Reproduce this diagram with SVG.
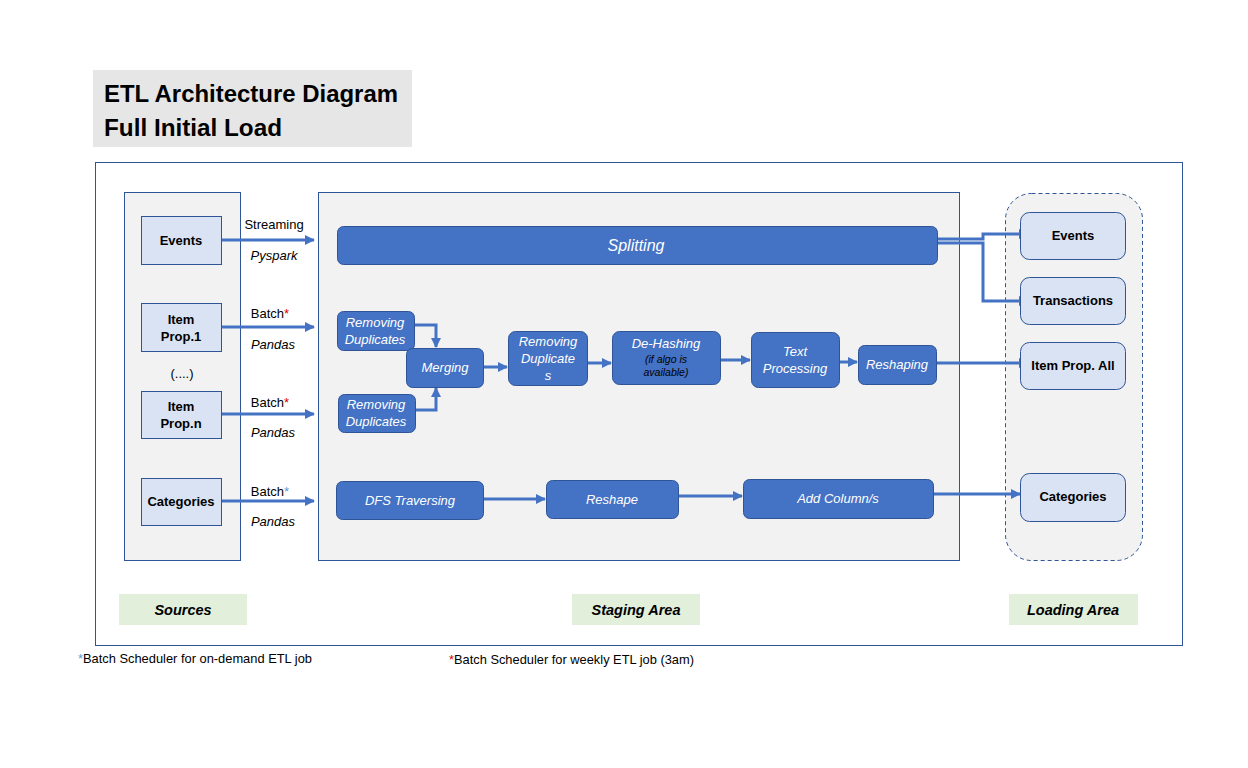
<svg xmlns="http://www.w3.org/2000/svg" width="1248" height="768" viewBox="0 0 1248 768">
<defs>
<marker id="ah" markerWidth="10" markerHeight="10" refX="9" refY="5" orient="auto" markerUnits="userSpaceOnUse"><path d="M0,0 L10,5 L0,10 Z" fill="#4472c4"/></marker>
<style>
.panel{fill:#f2f2f2;stroke:#2f5597;stroke-width:1}
.src{fill:#dae3f3;stroke:#2f5597;stroke-width:1}
.ld{fill:#dae3f3;stroke:#2f5597;stroke-width:1}
.st{fill:#4472c4;stroke:#2f5597;stroke-width:1}
.lbl{fill:#e2efda}
.t{font-family:"Liberation Sans",Arial,sans-serif;font-size:13px;fill:#000;text-anchor:middle}
.b{font-weight:bold}
.w{fill:#fff;font-style:italic}
.i{font-style:italic}
.sm{font-size:10.5px}
.big{font-size:16px}
.sec{font-size:14.5px}
.c{fill:none;stroke:#4472c4;stroke-width:3}
</style>
</defs>
<rect width="1248" height="768" fill="#fff"/>
<g id="title">
<rect x="93" y="70" width="319" height="77" fill="#e6e6e6"/>
<text x="104" y="102" font-family="'Liberation Sans',Arial,sans-serif" font-size="24" font-weight="bold" textLength="294" lengthAdjust="spacingAndGlyphs">ETL Architecture Diagram</text>
<text x="104" y="136" font-family="'Liberation Sans',Arial,sans-serif" font-size="24" font-weight="bold" textLength="178" lengthAdjust="spacingAndGlyphs">Full Initial Load</text>
</g>
<rect x="95.5" y="162.5" width="1087" height="483" fill="#fff" stroke="#2f5597" stroke-width="1"/>
<g id="sources-panel"><rect class="panel" x="124.5" y="192.5" width="116" height="368"/></g>
<g id="staging-panel"><rect class="panel" x="318.5" y="192.5" width="641" height="368"/></g>
<g id="loading-panel"><rect x="1005.5" y="193.5" width="137" height="367" rx="26" fill="#f2f2f2" stroke="#2f5597" stroke-dasharray="4,3"/></g>

<g id="connectors">
<line class="c" x1="221" y1="240" x2="314" y2="240" marker-end="url(#ah)"/>
<line class="c" x1="221" y1="327" x2="314" y2="327" marker-end="url(#ah)"/>
<line class="c" x1="221" y1="414" x2="314" y2="414" marker-end="url(#ah)"/>
<line class="c" x1="221" y1="501" x2="314" y2="501" marker-end="url(#ah)"/>
<polyline class="c" points="938,239 983,239 983,234 1028,234" marker-end="url(#ah)"/>
<polyline class="c" points="938,243 983,243 983,301 1028,301" marker-end="url(#ah)"/>
<line class="c" x1="936" y1="363" x2="1028" y2="363" marker-end="url(#ah)"/>
<line class="c" x1="933" y1="494" x2="1020" y2="494" marker-end="url(#ah)"/>
<polyline class="c" points="414,325 436,325 436,347" marker-end="url(#ah)"/>
<polyline class="c" points="415,410 436,410 436,388" marker-end="url(#ah)"/>
<line class="c" x1="483" y1="367" x2="507" y2="367" marker-end="url(#ah)"/>
<line class="c" x1="587" y1="363" x2="611" y2="363" marker-end="url(#ah)"/>
<line class="c" x1="720" y1="360" x2="750" y2="360" marker-end="url(#ah)"/>
<line class="c" x1="839" y1="362" x2="857" y2="362" marker-end="url(#ah)"/>
<line class="c" x1="483" y1="499" x2="545" y2="499" marker-end="url(#ah)"/>
<line class="c" x1="678" y1="496" x2="742" y2="496" marker-end="url(#ah)"/>
</g>

<g id="edge-labels">
<text class="t" x="274" y="229">Streaming</text>
<text class="t i" x="274" y="260">Pyspark</text>
<text class="t" x="270" y="318">Batch<tspan fill="#e00000">*</tspan></text>
<text class="t i" x="273" y="349">Pandas</text>
<text class="t" x="270" y="407">Batch<tspan fill="#e00000">*</tspan></text>
<text class="t i" x="273" y="437">Pandas</text>
<text class="t" x="270" y="496">Batch<tspan fill="#5b9bd5">*</tspan></text>
<text class="t i" x="273" y="526">Pandas</text>
</g>

<g id="src-events"><rect class="src" x="141.5" y="216.5" width="80" height="48"/><text class="t b" x="181" y="245">Events</text></g>
<g id="src-item1"><rect class="src" x="141.5" y="303.5" width="80" height="48"/><text class="t b" x="181" y="324">Item</text><text class="t b" x="181" y="341">Prop.1</text></g>
<g id="src-dots"><text class="t" x="182" y="378">(....)</text></g>
<g id="src-itemn"><rect class="src" x="141.5" y="391.5" width="80" height="47"/><text class="t b" x="181" y="411">Item</text><text class="t b" x="181" y="428">Prop.n</text></g>
<g id="src-categories"><rect class="src" x="141.5" y="478.5" width="80" height="47"/><text class="t b" x="181" y="506">Categories</text></g>

<g id="splitting"><rect class="st" x="337.5" y="226.5" width="600" height="38" rx="6"/><text class="t w big" x="636" y="251">Splitting</text></g>
<g id="rd1"><rect class="st" x="337.5" y="311.5" width="77" height="39" rx="6"/><text class="t w" x="375" y="327">Removing</text><text class="t w" x="375" y="344">Duplicates</text></g>
<g id="merging"><rect class="st" x="406.5" y="348.5" width="77" height="39" rx="6"/><text class="t w" x="445" y="372">Merging</text></g>
<g id="rd2"><rect class="st" x="338.5" y="394.5" width="77" height="38" rx="6"/><text class="t w" x="376" y="409">Removing</text><text class="t w" x="376" y="426">Duplicates</text></g>
<g id="rd3"><rect class="st" x="508.5" y="331.5" width="79" height="54" rx="7"/><text class="t w" x="548" y="346">Removing</text><text class="t w" x="548" y="363">Duplicate</text><text class="t w" x="548" y="380">s</text></g>
<g id="dehash"><rect class="st" x="612.5" y="331.5" width="108" height="53" rx="7"/><text class="t w" x="666" y="348">De-Hashing</text><text class="t i sm" x="666" y="363">(if algo is</text><text class="t i sm" x="666" y="376">available)</text></g>
<g id="textproc"><rect class="st" x="751.5" y="332.5" width="88" height="55" rx="7"/><text class="t w" x="795" y="356">Text</text><text class="t w" x="795" y="373">Processing</text></g>
<g id="reshaping"><rect class="st" x="858.5" y="345.5" width="78" height="39" rx="6"/><text class="t w" x="897" y="369">Reshaping</text></g>
<g id="dfs"><rect class="st" x="336.5" y="481.5" width="147" height="38" rx="6"/><text class="t w" x="410" y="505">DFS Traversing</text></g>
<g id="reshape"><rect class="st" x="546.5" y="480.5" width="132" height="38" rx="6"/><text class="t w" x="612" y="504">Reshape</text></g>
<g id="addcol"><rect class="st" x="743.5" y="479.5" width="190" height="39" rx="6"/><text class="t w" x="838" y="503">Add Column/s</text></g>

<g id="ld-events"><rect class="ld" x="1020.5" y="212.5" width="105" height="47" rx="9"/><text class="t b" x="1073" y="240">Events</text></g>
<g id="ld-trans"><rect class="ld" x="1020.5" y="277.5" width="105" height="47" rx="9"/><text class="t b" x="1073" y="305">Transactions</text></g>
<g id="ld-itemall"><rect class="ld" x="1020.5" y="342.5" width="105" height="47" rx="9"/><text class="t b" x="1073" y="370">Item Prop. All</text></g>
<g id="ld-categories"><rect class="ld" x="1020.5" y="473.5" width="105" height="48" rx="9"/><text class="t b" x="1073" y="501">Categories</text></g>

<g id="lbl-sources"><rect class="lbl" x="119" y="594" width="128" height="31"/><text class="t b i sec" x="183" y="615">Sources</text></g>
<g id="lbl-staging"><rect class="lbl" x="572" y="594" width="128" height="31"/><text class="t b i sec" x="636" y="615">Staging Area</text></g>
<g id="lbl-loading"><rect class="lbl" x="1009" y="594" width="129" height="31"/><text class="t b i sec" x="1073" y="615">Loading Area</text></g>

<g id="footnotes">
<text x="78" y="663" font-family="'Liberation Sans',Arial,sans-serif" font-size="13" textLength="234" lengthAdjust="spacingAndGlyphs"><tspan fill="#5b9bd5">*</tspan>Batch Scheduler  for on-demand  ETL job</text>
<text x="449" y="664" font-family="'Liberation Sans',Arial,sans-serif" font-size="13" textLength="245" lengthAdjust="spacingAndGlyphs"><tspan fill="#e00000">*</tspan>Batch Scheduler  for weekly ETL job  (3am)</text>
</g>
</svg>
